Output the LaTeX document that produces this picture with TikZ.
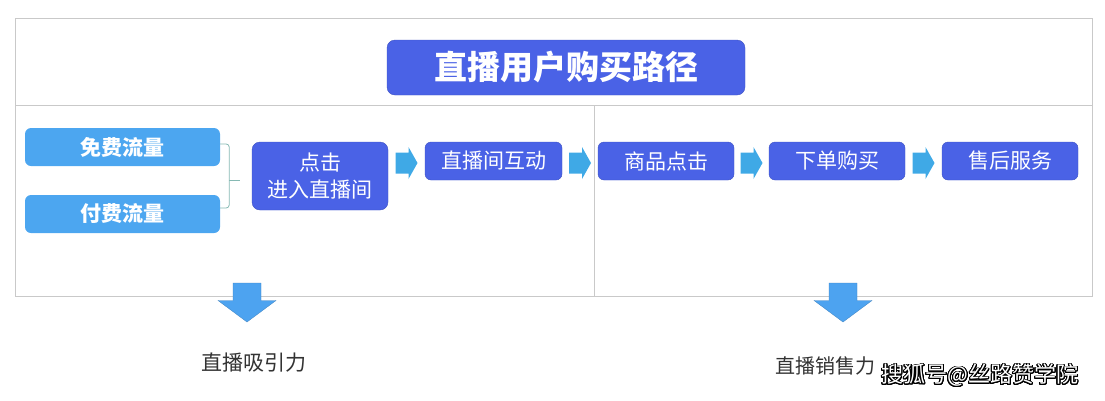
\documentclass[tikz,border=0pt]{standalone}
\usepackage{fontspec}
\setmainfont{Noto Sans CJK SC}
\usepackage{contour}
\contourlength{0.9pt}
\contournumber{24}
\usetikzlibrary{calc}
\definecolor{titleblue}{HTML}{4A62E6}
\definecolor{srcblue}{HTML}{4CA6F0}
\definecolor{arrowblue}{HTML}{3FA9E6}
\definecolor{downblue}{HTML}{4DA3F0}
\definecolor{framegray}{HTML}{C9C9C9}
\definecolor{bracegreen}{HTML}{86B9B3}
\definecolor{labelgray}{HTML}{333333}
\tikzset{
  stepnode/.style={fill=titleblue, draw=titleblue!85!black, line width=0.4pt,
    rounded corners=6pt, text=white, align=center, inner sep=0pt,
    minimum width=136pt, minimum height=38pt, font=\fontsize{21}{25}\selectfont},
  srcnode/.style={fill=srcblue, rounded corners=6pt, text=white, inner sep=0pt,
    minimum width=195pt, minimum height=38pt, font=\fontsize{21}{25}\selectfont\bfseries},
  result/.style={text=labelgray, font=\fontsize{21}{25}\selectfont},
  pics/flowarrow/.style={code={
    \fill[arrowblue] (-11,-10.5) -- (2,-10.5) -- (2,-16) -- (11,0) -- (2,16)
      -- (2,10.5) -- (-11,10.5) -- cycle;}},
  pics/downarrow/.style={code={
    \filldraw[fill=downblue, draw=downblue!80!black, line width=0.3pt]
      (-14,-19.5) -- (14,-19.5) -- (14,-2) -- (29,-2) -- (0,19.5)
      -- (-29,-2) -- (-14,-2) -- cycle;}}
}
\begin{document}
\begin{tikzpicture}[x=1pt,y=-1pt]
  \useasboundingbox (0,0) rectangle (1105,400);
  % frame
  \begin{scope}[draw=framegray, line width=1pt]
    \draw (15,18) rectangle (1092,296);
    \draw (15,105) -- (1092,105);
    \draw (594,105) -- (594,296);
  \end{scope}
  % title
  \node[stepnode, minimum width=358pt, minimum height=55pt, rounded corners=8pt,
    font=\fontsize{33}{36}\selectfont\bfseries] (title) at (566,67.5) {直播用户购买路径};
  % sources
  \node[srcnode] (free) at (122.5,147) {免费流量};
  \node[srcnode] (paid) at (122.5,214) {付费流量};
  % steps
  \node[stepnode, minimum height=68pt, rounded corners=8pt,
    font=\fontsize{21}{27}\selectfont] (click) at (320,176) {点击\\进入直播间};
  \node[stepnode, minimum width=137pt] (chat) at (493.5,161) {直播间互动};
  \node[stepnode] (item) at (666,161) {商品点击};
  \node[stepnode] (order) at (837,161) {下单购买};
  \node[stepnode] (after) at (1010,161) {售后服务};
  % brace
  \coordinate (bracemid) at ($($(free.east)!0.5!(paid.east)$)+(9,0)$);
  \draw[bracegreen, line width=0.8pt, rounded corners=3pt]
    ($(free.east)+(0,-3)$) -- ++(9,0) |- ($(paid.east)+(0,-6)$);
  \draw[bracegreen, line width=0.8pt] (bracemid) -- ++(11,0);
  % flow arrows
  \coordinate (a1) at ($(click.east |- chat)!0.5!(chat.west)$);
  \coordinate (a2) at ($(chat.east)!0.5!(item.west)$);
  \coordinate (a3) at ($(item.east)!0.5!(order.west)$);
  \coordinate (a4) at ($(order.east)!0.5!(after.west)$);
  \foreach \a in {a1,a2,a3,a4}
    \pic at ($(\a)+(0,2)$) {flowarrow};
  % results
  \coordinate (d1) at (247,302.5);
  \coordinate (d2) at (843,302.5);
  \pic at (d1) {downarrow};
  \pic at (d2) {downarrow};
  \node[result] (pull) at (254,363) {直播吸引力};
  \node[result, font=\fontsize{20}{24}\selectfont] (sell) at (825,366) {直播销售力};
  \node[font=\fontsize{22}{26}\selectfont] (mark) at (980,376)
    {\contour{black}{\textcolor{white}{搜狐号@丝路赞学院}}};
\end{tikzpicture}
\end{document}
